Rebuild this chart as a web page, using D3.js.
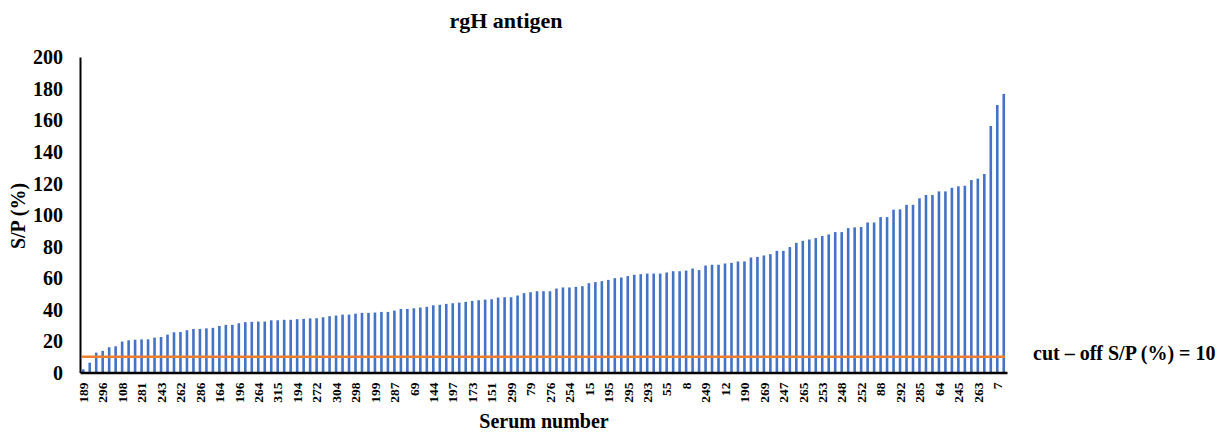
<!DOCTYPE html>
<html>
<head>
<meta charset="utf-8">
<script src="https://d3js.org/d3.v7.min.js"></script>
<style>
  body { margin: 0; background: #fff; }
  text { font-family: 'Liberation Serif', 'Times New Roman', serif; font-weight: bold; fill: #000; }
</style>
</head>
<body>
<script>
// S/P (%) per serum, sorted ascending (143 sera)
var spValues = [
  2, 6.2, 12.6, 13.7, 16, 16.6, 19.6, 20.4, 20.8, 21, 21, 22.1, 22.5, 24, 25.5, 25.7, 26.8, 27.6,
  27.6, 28, 28.3, 29.5, 30.2, 30.2, 31.2, 31.9, 32.1, 32.3, 32.3, 33.1, 33.1, 33.4, 33.4, 33.8, 34, 34.3,
  34.4, 35, 35.7, 36.1, 36.7, 36.7, 37.3, 37.8, 37.8, 38, 38.4, 38.4, 39.2, 40.3, 40.3, 40.7, 41.2, 41.6,
  42.6, 42.9, 43.5, 43.9, 44.3, 44.8, 45.4, 45.8, 46.2, 46.4, 47.5, 47.7, 47.7, 48.8, 50.3, 50.9, 51.5, 51.5,
  51.5, 53.2, 53.9, 53.9, 54.3, 54.7, 56.6, 57.3, 57.9, 58.7, 59.8, 60.2, 61.1, 61.9, 62.3, 62.7, 62.7, 62.7,
  63.4, 64.2, 64.2, 64.6, 65.9, 64.9, 67.8, 68.3, 68.3, 69.1, 69.5, 70.4, 70.4, 72.9, 73.3, 74.2, 75, 77.1, 77.1,
  79.5, 82.2, 83.5, 84.3, 85.2, 86.5, 87.5, 89, 89, 91.5, 92, 92.2, 95.1, 95.1, 98.5, 98.5, 103.2, 103.4,
  106.3, 106.3, 110.4, 112.5, 112.5, 114.8, 114.8, 117.1, 118, 118.4, 122, 122.9, 125.8, 156.3, 169.6, 176.6
];

// serum numbers shown on the axis (every third bar)
var serumLabels = [
  "189", "296", "108", "281", "243", "262", "286", "164", "196", "264", "315", "194",
  "272", "304", "298", "199", "287", "69", "144", "197", "173", "151", "299", "79",
  "276", "254", "15", "195", "295", "293", "55", "8", "249", "12", "190", "269",
  "247", "265", "253", "248", "252", "88", "292", "285", "64", "245", "263", "7"
];
var labelStep = 3;

var yTicks = [0, 20, 40, 60, 80, 100, 120, 140, 160, 180, 200];
var cutOff = 10;

var width = 1224, height = 432;
var margin = {left: 80, right: 217, top: 57, bottom: 59.5};

var svg = d3.select("body").append("svg")
    .attr("width", width)
    .attr("height", height);

var x = d3.scaleBand()
    .domain(d3.range(spValues.length))
    .range([margin.left, width - margin.right])
    .paddingInner(0.6)
    .paddingOuter(0.3);

var y = d3.scaleLinear()
    .domain([0, 200])
    .range([height - margin.bottom, margin.top]);

// bars
svg.append("g")
  .selectAll("rect")
  .data(spValues)
  .enter()
  .append("rect")
    .attr("x", function(d, i) { return x(i); })
    .attr("y", function(d) { return y(d); })
    .attr("width", x.bandwidth())
    .attr("height", function(d) { return y(0) - y(d); })
    .style("fill", "#4472c4");

// cut-off line
svg.append("line")
    .attr("x1", x(0))
    .attr("x2", x(spValues.length - 1) + x.bandwidth())
    .attr("y1", y(cutOff))
    .attr("y2", y(cutOff))
    .style("stroke", "#ed7d31")
    .style("stroke-width", 2.5);

// y axis
var yAxis = svg.append("g")
    .attr("transform", "translate(" + margin.left + ",0)")
    .call(d3.axisLeft(y).tickValues(yTicks).tickSize(0).tickPadding(17));
yAxis.select(".domain").style("stroke", "#000").style("stroke-width", 2);
yAxis.selectAll("text").style("font-size", "20px").attr("dy", "0.34em");

// x axis
var xAxis = svg.append("g")
    .attr("transform", "translate(0," + y(0) + ")")
    .call(d3.axisBottom(x)
      .tickValues(d3.range(0, spValues.length, labelStep))
      .tickFormat(function(i) { return serumLabels[i / labelStep]; })
      .tickSize(0));
xAxis.select(".domain").style("stroke", "#000").style("stroke-width", 2.5);
xAxis.selectAll("text")
    .style("font-size", "13.5px")
    .attr("text-anchor", "end")
    .attr("dy", "0.35em")
    .attr("transform", "translate(0,10) rotate(-90)")
    .attr("x", 0)
    .attr("y", 0);

// titles
svg.append("text")
    .attr("x", 506)
    .attr("y", 28)
    .attr("text-anchor", "middle")
    .style("font-size", "22px")
    .text("rgH antigen");

svg.append("text")
    .attr("transform", "translate(25," + 216 + ") rotate(-90)")
    .attr("text-anchor", "middle")
    .style("font-size", "20px")
    .text("S/P (%)");

svg.append("text")
    .attr("x", 544)
    .attr("y", 428)
    .attr("text-anchor", "middle")
    .style("font-size", "20px")
    .text("Serum number");

svg.append("text")
    .attr("x", 1033)
    .attr("y", 360)
    .style("font-size", "20px")
    .text("cut \u2013 off S/P (%) = " + cutOff);
</script>
</body>
</html>
